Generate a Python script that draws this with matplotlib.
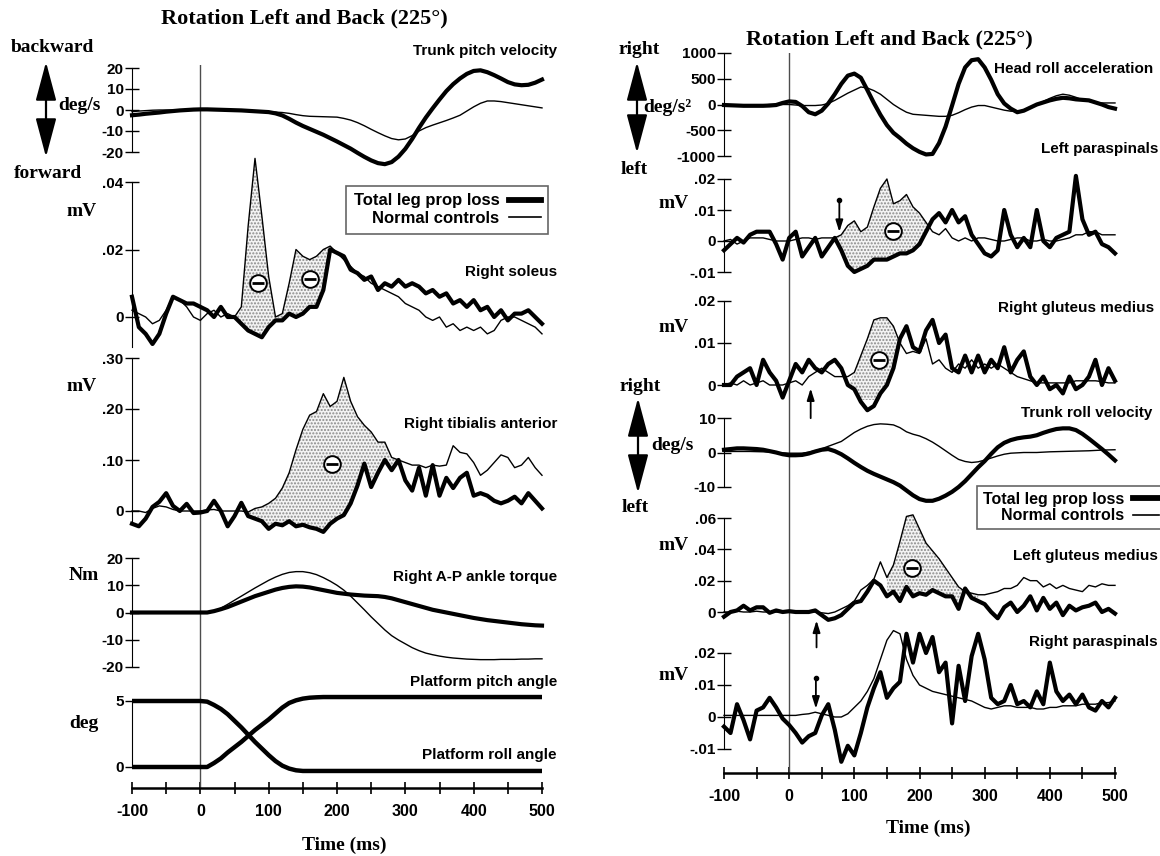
import matplotlib
matplotlib.use('Agg')
import matplotlib.pyplot as plt
from matplotlib.lines import Line2D
from matplotlib.patches import FancyArrowPatch
import numpy as np

# ---------------- data (10 ms steps) ----------------
t10 = np.arange(-100, 510, 10)

# left column
pitch_thick = [-2.5, -2.2, -1.8, -1.5, -1.2, -0.8, -0.5, -0.2, 0, 0.2,
               0.3, 0.3, 0.2, 0.1, 0, -0.1, -0.2, -0.4, -0.6, -0.8,
               -1.0, -1.6, -2.6, -4.2, -6, -7.6, -9, -10.4, -11.8, -13.4,
               -15, -16.7, -18.4, -20.4, -22.3, -24, -25.3, -25.8, -24.8, -22.2,
               -18.5, -13.8, -8.5, -3.6, 0.8, 5, 9, 12.3, 15, 17.2,
               18.6, 18.9, 18, 16.6, 15, 13.3, 12.2, 11.8, 12, 13,
               14.5]
pitch_thin = [-0.8, -0.5, -0.3, -0.1, 0, 0, 0, 0, 0, 0,
              0, 0, 0, 0, -0.2, -0.3, -0.4, -0.5, -0.6, -0.7,
              -0.8, -1.0, -1.2, -1.6, -2.2, -2.7, -3, -3.1, -3.2, -3.3,
              -3.4, -4, -4.8, -6, -7.5, -9.2, -10.8, -12.3, -13.6, -14.2,
              -13.8, -12.2, -10, -8.4, -7.2, -6.1, -5, -3.8, -2.5, -0.5,
              1.5, 3.2, 4.3, 4.3, 4, 3.5, 3, 2.5, 2, 1.5,
              1]

sol_thick = [0.006, -0.003, -0.005, -0.008, -0.005, 0.001, 0.006, 0.005, 0.004, 0.004,
             0.003, 0.002, 0.0, 0.003, 0.0, 0.0, -0.002, -0.004, -0.005, -0.006,
             -0.003, -0.001, -0.001, 0.001, 0.0, 0.001, 0.003, 0.003, 0.008, 0.020,
             0.019, 0.018, 0.014, 0.013, 0.011, 0.012, 0.008, 0.010, 0.009, 0.011,
             0.009, 0.010, 0.009, 0.007, 0.008, 0.006, 0.007, 0.004, 0.005, 0.003,
             0.005, 0.002, 0.003, 0.000, 0.002, -0.001, 0.001, 0.001, 0.002, 0.0,
             -0.002]
sol_thin = [0.002, 0.001, 0.000, -0.002, -0.001, 0.002, 0.006, 0.005, 0.003, 0.000,
            -0.001, 0.001, 0.002, 0.000, 0.001, 0.000, 0.003, 0.027, 0.047, 0.030,
            0.012, 0.000, 0.001, 0.010, 0.020, 0.018, 0.017, 0.018, 0.020, 0.021,
            0.019, 0.017, 0.015, 0.013, 0.012, 0.010, 0.009, 0.008, 0.007, 0.006,
            0.004, 0.003, 0.002, 0.000, -0.001, 0.000, -0.003, -0.002, -0.004, -0.003,
            -0.004, -0.003, -0.005, -0.004, -0.001, 0.000, 0.000, -0.001, -0.002, -0.003,
            -0.005]

tib_thick = [-0.025, -0.030, -0.015, 0.008, 0.018, 0.035, 0.010, 0.000, 0.014, -0.004,
             -0.003, 0.000, 0.020, 0.000, -0.030, -0.010, 0.016, -0.010, -0.015, -0.020,
             -0.035, -0.025, -0.028, -0.020, -0.030, -0.027, -0.032, -0.035, -0.041, -0.025,
             -0.015, -0.008, 0.015, 0.050, 0.093, 0.047, 0.075, 0.100, 0.080, 0.100,
             0.060, 0.040, 0.085, 0.030, 0.090, 0.030, 0.065, 0.045, 0.065, 0.075,
             0.030, 0.035, 0.030, 0.020, 0.015, 0.020, 0.028, 0.015, 0.035, 0.020,
             0.005]
tib_thin = [0.0, 0.0, -0.003, 0.005, 0.010, 0.008, 0.003, 0.0, 0.0, 0.0,
            0.0, 0.002, 0.003, 0.0, 0.0, 0.0, 0.0, -0.002, 0.005, 0.008,
            0.015, 0.025, 0.045, 0.075, 0.120, 0.160, 0.188, 0.195, 0.230, 0.205,
            0.215, 0.262, 0.215, 0.185, 0.168, 0.155, 0.135, 0.135, 0.105, 0.100,
            0.095, 0.090, 0.090, 0.085, 0.090, 0.088, 0.090, 0.128, 0.115, 0.112,
            0.095, 0.070, 0.080, 0.095, 0.110, 0.105, 0.085, 0.090, 0.105, 0.085,
            0.070]

torque_thick = [0, 0, 0, 0, 0, 0, 0, 0, 0, 0,
                0, 0, 0.5, 1.2, 2, 3, 4, 5, 6, 6.8,
                7.6, 8.4, 9, 9.4, 9.6, 9.5, 9.2, 8.7, 8.2, 7.7,
                7.2, 6.9, 6.6, 6.4, 6.2, 6.1, 6.0, 5.7, 5.2, 4.5,
                3.8, 3.1, 2.4, 1.7, 1.0, 0.5, 0.0, -0.5, -1.0, -1.5,
                -2.0, -2.4, -2.8, -3.1, -3.4, -3.7, -4.0, -4.3, -4.5, -4.7,
                -4.8]
torque_thin = [0, 0, 0, 0, 0, 0, 0, 0, 0, 0,
               0, 0, 0.5, 1.6, 3, 4.5, 6, 7.5, 9, 10.4,
               11.8, 13, 14, 14.7, 15, 15, 14.6, 13.9, 12.8, 11.5,
               10, 8.2, 6, 3.5, 1, -1.6, -4, -6.4, -8.5, -10.1,
               -11.5, -12.9, -14, -14.9, -15.5, -16, -16.4, -16.7, -16.9, -17.1,
               -17.2, -17.3, -17.3, -17.3, -17.2, -17.2, -17.2, -17.1, -17.1, -17.0,
               -17.0]

plat_pitch = [0, 0, 0, 0, 0, 0, 0, 0, 0, 0,
              0, 0, 0.3, 0.65, 1.1, 1.5, 1.9, 2.35, 2.8, 3.2,
              3.6, 4.05, 4.5, 4.85, 5.05, 5.18, 5.25, 5.28, 5.3, 5.3,
              5.3, 5.3, 5.3, 5.3, 5.3, 5.3, 5.3, 5.3, 5.3, 5.3,
              5.3, 5.3, 5.3, 5.3, 5.3, 5.3, 5.3, 5.3, 5.3, 5.3,
              5.3, 5.3, 5.3, 5.3, 5.3, 5.3, 5.3, 5.3, 5.3, 5.3,
              5.3]
plat_roll = [5, 5, 5, 5, 5, 5, 5, 5, 5, 5,
             5, 4.95, 4.7, 4.4, 4.0, 3.5, 3.0, 2.45, 1.9, 1.4,
             0.9, 0.45, 0.1, -0.12, -0.25, -0.3, -0.3, -0.3, -0.3, -0.3,
             -0.3, -0.3, -0.3, -0.3, -0.3, -0.3, -0.3, -0.3, -0.3, -0.3,
             -0.3, -0.3, -0.3, -0.3, -0.3, -0.3, -0.3, -0.3, -0.3, -0.3,
             -0.3, -0.3, -0.3, -0.3, -0.3, -0.3, -0.3, -0.3, -0.3, -0.3,
             -0.3]

# right column
head_thick = [-10, -15, -20, -25, -25, -25, -25, -20, -10, 30,
              60, 50, -30, -150, -190, -120, 20, 200, 400, 560,
              600, 520, 280, 30, -200, -400, -550, -650, -760, -850,
              -920, -970, -960, -750, -430, -20, 400, 720, 860, 880,
              720, 480, 200, 20, -80, -150, -120, -60, 0, 40,
              80, 110, 130, 120, 100, 90, 80, 40, 0, -50,
              -80]
head_thin = [0, -10, -20, -20, -20, -20, -10, 0, 0, 0,
             0, -10, -20, -20, -20, -10, 20, 80, 150, 220,
             280, 340, 320, 270, 200, 100, 0, -80, -150, -190,
             -200, -210, -220, -230, -230, -210, -160, -100, -50, -20,
             -20, -50, -80, -110, -130, -130, -110, -60, 0, 60,
             120, 170, 200, 180, 140, 90, 60, 40, 30, 30,
             30]

lpara_thick = [-0.003, -0.001, 0.001, -0.0005, 0.002, 0.003, 0.003, 0.003, -0.001, -0.006,
               0.001, 0.003, -0.005, -0.002, 0.001, -0.005, -0.002, 0.001, -0.003, -0.008,
               -0.010, -0.009, -0.008, -0.006, -0.006, -0.006, -0.005, -0.004, -0.004, -0.003,
               -0.001, 0.003, 0.007, 0.009, 0.006, 0.010, 0.006, 0.008, 0.002, -0.001,
               -0.004, -0.005, -0.003, 0.010, 0.002, -0.002, 0.001, -0.002, 0.010, 0.0,
               -0.002, 0.001, 0.002, 0.003, 0.021, 0.007, 0.002, 0.003, -0.001, -0.002,
               -0.004]
lpara_thin = [0.0, 0.0005, -0.001, 0.0, 0.001, 0.001, 0.001, 0.0005, 0.0, 0.0,
              0.0, 0.0005, 0.001, 0.001, 0.0005, 0.001, 0.001, 0.001, 0.002, 0.005,
              0.0065, 0.003, 0.0045, 0.011, 0.017, 0.020, 0.012, 0.013, 0.015, 0.011,
              0.009, 0.006, 0.003, 0.002, 0.004, 0.001, 0.0, 0.001, 0.0, 0.001,
              0.001, 0.0005, 0.0, 0.0, 0.0005, 0.001, 0.001, 0.0, 0.0, 0.0005,
              0.0, 0.0, 0.0005, 0.001, 0.002, 0.002, 0.003, 0.003, 0.002, 0.002,
              0.002]

rglut_thick = [0.0, 0.0, 0.002, 0.003, 0.004, 0.0, 0.006, 0.003, 0.001, -0.003,
               0.001, 0.005, 0.003, 0.006, 0.004, 0.003, 0.005, 0.006, 0.004, 0.0,
               -0.001, -0.004, -0.006, -0.005, -0.002, 0.000, 0.004, 0.011, 0.014, 0.009,
               0.008, 0.013, 0.0155, 0.010, 0.012, 0.004, 0.003, 0.007, 0.003, 0.007,
               0.003, 0.006, 0.004, 0.009, 0.003, 0.006, 0.008, 0.002, 0.0, 0.002,
               -0.001, 0.0, -0.002, 0.002, -0.001, 0.0, 0.002, 0.006, 0.0, 0.004,
               0.001]
rglut_thin = [0.0, 0.0005, 0.0, 0.001, 0.0, 0.0005, 0.001, 0.0, 0.0, 0.0,
              0.0005, 0.001, 0.0, 0.002, 0.003, 0.004, 0.003, 0.002, 0.002, 0.002,
              0.003, 0.007, 0.011, 0.0155, 0.016, 0.016, 0.014, 0.010, 0.0075, 0.008,
              0.0075, 0.011, 0.005, 0.006, 0.004, 0.003, 0.005, 0.004, 0.006, 0.004,
              0.005, 0.004, 0.005, 0.004, 0.003, 0.002, 0.0015, 0.001, 0.0005, 0.0005,
              0.0005, 0.0005, 0.0005, 0.0005, 0.001, 0.001, 0.001, 0.001, 0.0008, 0.0005,
              0.0005]

roll_thick = [0.8, 1.0, 1.2, 1.2, 1.1, 1.0, 0.8, 0.4, 0.0, -0.5,
              -0.8, -0.8, -0.7, -0.3, 0.3, 0.8, 1.0, 0.4, -0.5, -1.7,
              -3.0, -4.2, -5.3, -6.2, -7.0, -7.8, -8.6, -9.6, -11.0, -12.4,
              -13.5, -14.0, -14.0, -13.4, -12.5, -11.4, -10.0, -8.3, -6.3, -4.3,
              -2.5, -0.4, 1.5, 2.8, 3.6, 4.1, 4.4, 4.6, 5.0, 5.7,
              6.3, 6.8, 7.0, 7.0, 6.5, 5.4, 4.0, 2.5, 1.0, -0.6,
              -2.3]
roll_thin = [0.3, 0.3, 0.3, 0.3, 0.3, 0.25, 0.2, 0.1, 0.0, -0.1,
             -0.2, -0.2, -0.2, 0.1, 0.5, 1.1, 1.8, 2.5, 3.2, 4.5,
             5.8, 6.8, 7.6, 8.1, 8.3, 8.2, 8.0, 7.2, 6.0, 5.3,
             4.8, 4.0, 3.0, 1.8, 0.5, -0.8, -2.0, -2.6, -2.9, -2.7,
             -2.2, -1.6, -1.0, -0.5, -0.2, -0.1, 0.0, 0.0, 0.0, 0.1,
             0.2, 0.25, 0.3, 0.35, 0.4, 0.45, 0.5, 0.6, 0.7, 0.75,
             0.8]

lglut_thick = [-0.003, 0.0, 0.001, 0.004, 0.001, 0.003, 0.003, -0.0005, 0.001, 0.0,
               0.0005, 0.0, 0.0, 0.0, 0.001, -0.002, -0.005, -0.004, -0.002, 0.002,
               0.006, 0.007, 0.013, 0.020, 0.017, 0.010, 0.013, 0.007, 0.016, 0.010,
               0.012, 0.011, 0.014, 0.012, 0.010, 0.010, 0.002, 0.015, 0.009, 0.007,
               0.005, 0.0, -0.004, 0.003, 0.006, 0.0, 0.004, 0.010, 0.001, 0.009,
               0.002, 0.006, -0.002, 0.004, 0.001, 0.003, 0.004, 0.006, 0.0, 0.002,
               -0.001]
lglut_thin = [0.0, 0.0, 0.0005, 0.0, 0.0, 0.0005, 0.0, 0.0, 0.0, 0.0,
              0.0, 0.0, 0.0, 0.0, 0.0, -0.0005, -0.001, 0.0, 0.002, 0.004,
              0.007, 0.014, 0.017, 0.021, 0.032, 0.022, 0.030, 0.045, 0.061, 0.062,
              0.053, 0.044, 0.039, 0.034, 0.028, 0.022, 0.016, 0.013, 0.012, 0.011,
              0.011, 0.012, 0.013, 0.015, 0.015, 0.017, 0.022, 0.020, 0.020, 0.016,
              0.018, 0.015, 0.017, 0.015, 0.014, 0.013, 0.017, 0.016, 0.018, 0.017,
              0.017]

rpara_thick = [-0.003, -0.005, 0.004, -0.001, -0.007, 0.002, 0.003, 0.006, 0.003, -0.0005,
               -0.0025, -0.005, -0.008, -0.006, -0.005, 0.0005, 0.004, -0.004, -0.014, -0.009,
               -0.012, -0.005, 0.003, 0.009, 0.014, 0.006, 0.009, 0.011, 0.026, 0.017,
               0.026, 0.020, 0.025, 0.014, 0.017, -0.002, 0.016, 0.005, 0.019, 0.026,
               0.018, 0.006, 0.004, 0.005, 0.010, 0.004, 0.005, 0.003, 0.008, 0.004,
               0.017, 0.008, 0.005, 0.007, 0.004, 0.007, 0.003, 0.002, 0.005, 0.003,
               0.006]
rpara_thin = [0.0005, 0.0005, 0.0005, 0.0005, 0.0005, 0.0005, 0.0005, 0.0005, 0.0005, 0.0005,
              0.0005, 0.0005, 0.0008, 0.001, 0.0015, 0.001, 0.0005, 0.0, 0.0, 0.001,
              0.003, 0.005, 0.008, 0.012, 0.018, 0.024, 0.027, 0.026, 0.018, 0.013,
              0.010, 0.009, 0.008, 0.0075, 0.007, 0.0065, 0.006, 0.0055, 0.005, 0.004,
              0.003, 0.0025, 0.003, 0.0035, 0.0035, 0.003, 0.003, 0.003, 0.0025, 0.0025,
              0.003, 0.003, 0.0035, 0.0035, 0.0035, 0.004, 0.004, 0.004, 0.0045, 0.0045,
              0.005]

# shaded windows (ms) and annotation marks
sol_windows = [(55, 112), (120, 192)]
tib_windows = [(70, 280)]
lpara_windows = [(76, 245)]
rglut_windows = [(100, 175)]
lglut_windows = [(145, 290)]
sol_minus = [(84, 0.0102), (161, 0.0112)]
tib_minus = [(192, 0.092)]
lpara_minus = [(160, 0.0031)]
rglut_minus = [(138, 0.006)]
lglut_minus = [(189, 0.028)]
# onset arrows: (time, tail value, head value)
lpara_onset = (77, 0.0133, 0.0029)
rglut_onset = (33, -0.0079, -0.0008)
lglut_onset = (42, -0.0226, -0.0054)
rpara_onset = (41, 0.0121, 0.0026)

time_ticks = [-100, 0, 100, 200, 300, 400, 500]
time_minor = [-50, 50, 150, 250, 350, 450]

# ---------------- drawing ----------------
SANS = ['Liberation Sans', 'DejaVu Sans']
SERIF = ['Liberation Serif', 'DejaVu Serif']
plt.rcParams['font.family'] = SANS
plt.rcParams['font.weight'] = 'bold'
plt.rcParams['hatch.linewidth'] = 1.0

W, H = 1160, 856
fig = plt.figure(figsize=(W / 100, H / 100), dpi=100)
COLS = {'L': (132, 542), 'R': (724, 1115)}
THICK, THIN = 3.0, 1.0


def box(x0, x1, top, bot):
    return [x0 / W, 1 - bot / H, (x1 - x0) / W, (bot - top) / H]


def ftext(x, y, s, size=11, ha='center', serif=False):
    fig.text(x / W, 1 - y / H, s, ha=ha, va='center', fontsize=size,
             family=SERIF if serif else SANS, fontweight='bold')


def darrow(x, y0, y1):
    fig.add_artist(FancyArrowPatch((x / W, 1 - y0 / H), (x / W, 1 - y1 / H),
                                   transform=fig.transFigure, color='black', lw=1.6,
                                   arrowstyle='<|-|>,head_length=1.5,head_width=0.4',
                                   mutation_scale=16, shrinkA=0, shrinkB=0))


def time_axis(col, top, bot):
    x0, x1 = COLS[col]
    ax = fig.add_axes(box(x0, x1, top, bot), zorder=1)
    ax.patch.set_visible(False)
    ax.set_xlim(-100, 500)
    ax.set_ylim(0, 1)
    for s in ('top', 'right', 'left'):
        ax.spines[s].set_visible(False)
    ax.spines['bottom'].set_linewidth(1.8)
    ax.set_yticks([])
    ax.set_xticks(time_ticks, [str(v) for v in time_ticks])
    ax.set_xticks(time_minor, minor=True)
    ax.tick_params(axis='x', which='both', direction='inout', length=9, width=1.2,
                   pad=7, labelsize=11.5)
    ax.axvline(0, color='0.3', lw=1.0)
    return ax


def panel(col, top, bot, pa, va, pb, vb, ticks, labels, spine=None):
    x0, x1 = COLS[col]
    ax = fig.add_axes(box(x0, x1, top, bot), zorder=2)
    ax.patch.set_visible(False)
    k = (va - vb) / (pb - pa)
    ax.set_xlim(-100, 500)
    ax.set_ylim(vb - (bot - pb) * k, va + (pa - top) * k)
    for s in ('top', 'right', 'bottom'):
        ax.spines[s].set_visible(False)
    ax.spines['left'].set_bounds(*(spine or (min(ticks), max(ticks))))
    ax.set_xticks([])
    ax.set_yticks(ticks, labels)
    ax.tick_params(axis='y', direction='inout', length=10, width=1, pad=1, labelsize=11)
    return ax


def traces(ax, t, thick, thin, lw_thick=THICK):
    ax.plot(t, thin, color='black', lw=THIN, zorder=3, clip_on=False)
    ax.plot(t, thick, color='black', lw=lw_thick, zorder=3, solid_joinstyle='round',
            clip_on=False)


def shade(ax, t, hi, lo, windows):
    hi, lo = np.asarray(hi), np.asarray(lo)
    mask = np.zeros(len(t), bool)
    for a, b in windows:
        mask |= (t >= a) & (t <= b)
    ax.fill_between(t, lo, hi, where=mask & (hi >= lo), interpolate=True,
                    facecolor='#f3f3f3', edgecolor='#8a8a8a', hatch='.....',
                    linewidth=0, zorder=1)


def minus(ax, marks):
    for t, v in marks:
        ax.plot(t, v, marker='o', ms=12, mfc='white', mec='black', mew=1.4, zorder=5)
        ax.plot(t, v, marker='_', ms=8, mec='black', mew=2.0, zorder=6)


def onset(ax, mark):
    t, v_tail, v_head = mark
    ax.annotate('', xy=(t, v_head), xytext=(t, v_tail),
                arrowprops=dict(arrowstyle='-|>,head_length=0.7,head_width=0.22',
                                color='black', lw=1.3, shrinkA=0, shrinkB=0), zorder=6)
    ax.plot(t, v_tail, 'o', ms=3, color='black', zorder=6)


# left column ----------------------------------------------------------
time_axis('L', 65, 788)

ax = panel('L', 55, 170, 68, 20, 152, -20, [20, 10, 0, -10, -20],
           ['20', '10', '0', '-10', '-20'])
traces(ax, t10, pitch_thick, pitch_thin)

ax = panel('L', 150, 345, 182, 0.04, 317, 0.0, [0.04, 0.02, 0.0], ['.04', '.02', '0'],
           spine=(-0.009, 0.04))
shade(ax, t10, sol_thin, sol_thick, sol_windows)
traces(ax, t10, sol_thick, sol_thin)
minus(ax, sol_minus)

ax = panel('L', 345, 540, 358, 0.30, 511, 0.0, [0.30, 0.20, 0.10, 0.0],
           ['.30', '.20', '.10', '0'], spine=(-0.025, 0.30))
shade(ax, t10, tib_thin, tib_thick, tib_windows)
traces(ax, t10, tib_thick, tib_thin)
minus(ax, tib_minus)

ax = panel('L', 550, 675, 558, 20, 667, -20, [20, 10, 0, -10, -20],
           ['20', '10', '0', '-10', '-20'])
traces(ax, t10, torque_thick, torque_thin)

ax = panel('L', 680, 780, 701, 5, 767, 0, [5, 0], ['5', '0'])
ax.plot(t10, plat_pitch, color='black', lw=3.2, solid_joinstyle='round')
ax.plot(t10, plat_roll, color='black', lw=3.2, solid_joinstyle='round')

ftext(304, 18, 'Rotation Left and Back (225°)', 16, serif=True)
ftext(52, 48, 'backward', 14, serif=True)
ftext(48, 173, 'forward', 14, serif=True)
ftext(79, 106, 'deg/s', 14, serif=True)
darrow(46, 62, 157)
ftext(82, 212, 'mV', 14, serif=True)
ftext(82, 387, 'mV', 14, serif=True)
ftext(84, 576, 'Nm', 14, serif=True)
ftext(84, 723, 'deg', 14, serif=True)
for s, y in [('Trunk pitch velocity', 51), ('Right soleus', 272),
             ('Right tibialis anterior', 424), ('Right A-P ankle torque', 577),
             ('Platform pitch angle', 682), ('Platform roll angle', 755)]:
    ftext(557, y, s, 11, ha='right')
ftext(344, 845, 'Time (ms)', 14, serif=True)

handles = [Line2D([], [], color='black', lw=4.2), Line2D([], [], color='black', lw=1.2)]
names = ['Total leg prop loss', 'Normal controls']
leg = fig.legend(handles, names, loc='upper left', bbox_to_anchor=(346 / W, 1 - 186 / H),
                 markerfirst=False, fancybox=False, framealpha=1, edgecolor='0.4',
                 prop=dict(family=SANS, weight='bold', size=12), handlelength=1.9,
                 borderpad=0.45, labelspacing=0.15, borderaxespad=0, handletextpad=0.6)
leg.get_frame().set_linewidth(1.2)

# right column ---------------------------------------------------------
time_axis('R', 53, 773)

ax = panel('R', 45, 165, 53, 1000, 156, -1000, [1000, 500, 0, -500, -1000],
           ['1000', '500', '0', '-500', '-1000'])
traces(ax, t10, head_thick, head_thin)

ax = panel('R', 170, 285, 179, 0.02, 272, -0.01, [0.02, 0.01, 0.0, -0.01],
           ['.02', '.01', '0', '-.01'])
shade(ax, t10, lpara_thin, lpara_thick, lpara_windows)
traces(ax, t10, lpara_thick, lpara_thin)
minus(ax, lpara_minus)
onset(ax, lpara_onset)

ax = panel('R', 290, 400, 301, 0.02, 385, 0.0, [0.02, 0.01, 0.0], ['.02', '.01', '0'])
shade(ax, t10, rglut_thin, rglut_thick, rglut_windows)
traces(ax, t10, rglut_thick, rglut_thin)
minus(ax, rglut_minus)
onset(ax, rglut_onset)

ax = panel('R', 405, 500, 418, 10, 487, -10, [10, 0, -10], ['10', '0', '-10'])
traces(ax, t10, roll_thick, roll_thin)

ax = panel('R', 505, 630, 518, 0.06, 612, 0.0, [0.06, 0.04, 0.02, 0.0],
           ['.06', '.04', '.02', '0'])
shade(ax, t10, lglut_thin, lglut_thick, lglut_windows)
traces(ax, t10, lglut_thick, lglut_thin)
minus(ax, lglut_minus)
onset(ax, lglut_onset)

ax = panel('R', 640, 768, 653, 0.02, 749, -0.01, [0.02, 0.01, 0.0, -0.01],
           ['.02', '.01', '0', '-.01'])
traces(ax, t10, rpara_thick, rpara_thin)
onset(ax, rpara_onset)

ftext(889, 39, 'Rotation Left and Back (225°)', 16, serif=True)
ftext(639, 49, 'right', 14, serif=True)
darrow(637, 62, 153)
ftext(667, 108, 'deg/s²', 14, serif=True)
ftext(634, 170, 'left', 14, serif=True)
ftext(640, 387, 'right', 14, serif=True)
darrow(638, 398, 493)
ftext(672, 446, 'deg/s', 14, serif=True)
ftext(635, 507, 'left', 14, serif=True)
for y in (203, 327, 545, 675):
    ftext(674, y, 'mV', 14, serif=True)
for s, x, y in [('Head roll acceleration', 1153, 69), ('Left paraspinals', 1158, 149),
                ('Right gluteus medius', 1154, 308), ('Trunk roll velocity', 1152, 413),
                ('Left gluteus medius', 1158, 556), ('Right paraspinals', 1158, 642)]:
    ftext(x, y, s, 11, ha='right')
ftext(928, 828, 'Time (ms)', 14, serif=True)

leg2 = fig.legend(handles, names, loc='upper left', bbox_to_anchor=(977 / W, 1 - 486 / H),
                  markerfirst=False, fancybox=False, framealpha=1, edgecolor='0.4',
                  prop=dict(family=SANS, weight='bold', size=11.5), handlelength=1.6,
                  borderpad=0.35, labelspacing=0.1, borderaxespad=0, handletextpad=0.6)
leg2.get_frame().set_linewidth(1.2)

fig.savefig('out.png', dpi=100)
